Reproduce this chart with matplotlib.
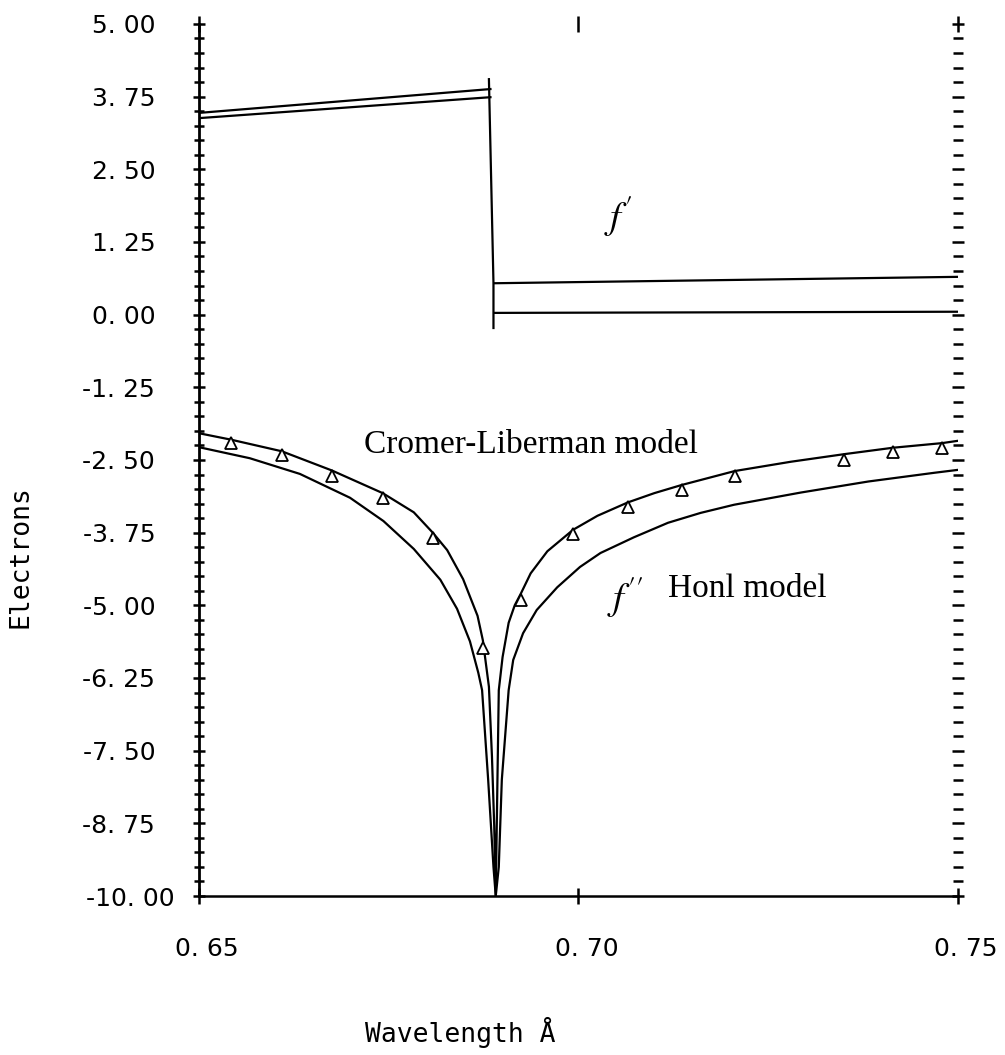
import matplotlib.pyplot as plt
import numpy as np
from matplotlib.ticker import MultipleLocator, FixedLocator, NullLocator
from matplotlib.transforms import ScaledTranslation

plt.rcParams['mathtext.fontset'] = 'stix'

# f' : two models, pre-edge / edge / post-edge pieces
fp_pre_x = [0.6500, 0.6884]
fp_upper_pre = [3.47, 3.88]
fp_lower_pre = [3.38, 3.74]
fp_edge_x = [0.6882, 0.6888, 0.6888]
fp_edge_y = [4.05, 0.54, -0.23]
fp_post_x = [0.6889, 0.7500]
fp_upper_post = [0.54, 0.65]
fp_lower_post = [0.03, 0.05]

# f'' : Cromer-Liberman (upper curve)
cl_x = [0.6500, 0.6542, 0.6609, 0.6675, 0.6742, 0.6783, 0.6808, 0.6827, 0.6848,
        0.6867, 0.6874, 0.6882, 0.6886, 0.6889, 0.6891, 0.6893, 0.6895, 0.6900,
        0.6908, 0.6916, 0.6924, 0.6937, 0.6959, 0.6993, 0.7025, 0.7065, 0.7100,
        0.7136, 0.7206, 0.7280, 0.7350, 0.7414, 0.7479, 0.7500]
cl_y = [-2.04, -2.15, -2.35, -2.68, -3.07, -3.40, -3.75, -4.05, -4.55,
        -5.18, -5.60, -6.40, -7.60, -8.80, -10.0, -8.20, -6.46, -5.89,
        -5.30, -5.00, -4.80, -4.45, -4.07, -3.70, -3.46, -3.23, -3.07,
        -2.93, -2.69, -2.53, -2.40, -2.29, -2.21, -2.17]

# f'' : Honl (lower curve)
honl_x = [0.6500, 0.6567, 0.6633, 0.6699, 0.6743, 0.6783, 0.6818, 0.6840, 0.6857,
          0.6868, 0.6873, 0.6881, 0.6888, 0.6891, 0.6895, 0.6899, 0.6908, 0.6914,
          0.6927, 0.6945, 0.6972, 0.7002, 0.7029, 0.7073, 0.7118, 0.7161, 0.7205,
          0.7293, 0.7382, 0.7469, 0.7500]
honl_y = [-2.28, -2.47, -2.74, -3.15, -3.55, -4.03, -4.56, -5.06, -5.62,
          -6.16, -6.46, -8.00, -9.50, -10.0, -9.50, -8.00, -6.46, -5.94,
          -5.48, -5.08, -4.69, -4.34, -4.10, -3.83, -3.58, -3.41, -3.27,
          -3.06, -2.87, -2.72, -2.67]

# measured points (triangles)
tri_x = [0.6542, 0.6609, 0.6675, 0.6742, 0.6808, 0.6874, 0.6924, 0.6993,
         0.7065, 0.7136, 0.7206, 0.7350, 0.7414, 0.7479]
tri_y = [-2.21, -2.42, -2.78, -3.16, -3.85, -5.74, -4.91, -3.78,
         -3.31, -3.02, -2.78, -2.50, -2.37, -2.30]

x_ticks = [0.65, 0.70, 0.75]
x_labels = ['0. 65', '0. 70', '0. 75']
y_ticks = [5.0, 3.75, 2.5, 1.25, 0.0, -1.25, -2.5, -3.75, -5.0, -6.25, -7.5, -8.75, -10.0]
y_labels = ['5. 00', '3. 75', '2. 50', '1. 25', '0. 00', '-1. 25', '-2. 50', '-3. 75',
            '-5. 00', '-6. 25', '-7. 50', '-8. 75', '-10. 00']

fig = plt.figure(figsize=(10.05, 10.55), dpi=100)
ax = fig.add_axes([0.198, 0.1507, 0.7552, 0.8266])

lw = 1.6
ax.plot(fp_pre_x, fp_upper_pre, 'k-', lw=lw)
ax.plot(fp_pre_x, fp_lower_pre, 'k-', lw=lw)
ax.plot(fp_edge_x, fp_edge_y, 'k-', lw=lw)
ax.plot(fp_post_x, fp_upper_post, 'k-', lw=lw)
ax.plot(fp_post_x, fp_lower_post, 'k-', lw=lw)
ax.plot(cl_x, cl_y, 'k-', lw=lw)
ax.plot(honl_x, honl_y, 'k-', lw=lw)
ax.plot(tri_x, tri_y, ls='none', marker='^', ms=8, mfc='white', mec='k', mew=1.3)

ax.set_xlim(0.65, 0.75)
ax.set_ylim(-10, 5)
ax.xaxis.set_major_locator(FixedLocator(x_ticks))
ax.xaxis.set_minor_locator(NullLocator())
ax.yaxis.set_major_locator(FixedLocator(y_ticks))
ax.yaxis.set_minor_locator(MultipleLocator(0.25))
ax.set_xticklabels(x_labels)
ax.set_yticklabels(y_labels)

ax.spines['top'].set_visible(False)
ax.spines['right'].set_visible(False)
ax.spines['left'].set_linewidth(2)
ax.spines['bottom'].set_linewidth(1.8)

ax.tick_params(axis='y', which='major', direction='inout', length=9, width=1.8,
               left=True, right=True, labelsize=18, pad=27)
ax.tick_params(axis='y', which='minor', direction='inout', length=6.5, width=1.8,
               left=True, right=True)
ax.tick_params(axis='x', which='major', direction='inout', length=11, width=1.8,
               top=True, bottom=True, labelsize=18, pad=24)

for lab in ax.get_xticklabels():
    lab.set_transform(lab.get_transform() + ScaledTranslation(0.08, 0, fig.dpi_scale_trans))
ylabs = ax.get_yticklabels()
ylabs[-1].set_transform(ylabs[-1].get_transform() + ScaledTranslation(0.19, 0, fig.dpi_scale_trans))

serif = 'Liberation Serif'
ax.text(0.6717, -2.38, 'Cromer-Liberman model', family=serif, fontsize=24, ha='left', va='baseline')
ax.text(0.7118, -4.86, 'Honl model', family=serif, fontsize=24, ha='left', va='baseline')
ax.text(0.7062, -4.86, r"$f''$", fontsize=28, ha='center', va='center')
ax.text(0.7052, 1.68, r"$f'$", fontsize=28, ha='center', va='center')

fig.text(365 / 1005, 1 - 1042 / 1055, 'Wavelength Å', family='DejaVu Sans Mono',
         fontsize=19, ha='left', va='baseline')
fig.text(20 / 1005, 0.472, 'Electrons', rotation=90, family='DejaVu Sans Mono',
         fontsize=19, ha='center', va='center')

fig.savefig('out.png', dpi=100)
